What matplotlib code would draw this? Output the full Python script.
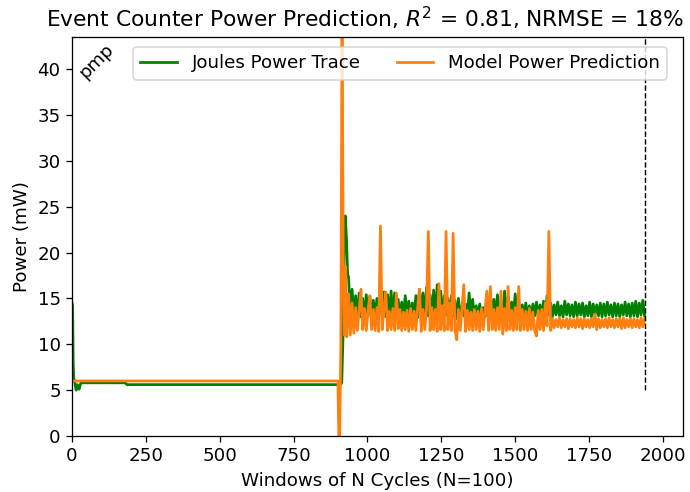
import numpy as np
import matplotlib
matplotlib.use("Agg")
import matplotlib.pyplot as plt

# ---------------- data ----------------
# Joules power trace: head part (explicit windows)
green_head_x = [0, 2, 4, 6, 9, 14, 18, 24, 30, 180, 186, 908, 913, 917, 921, 925, 929, 933]
green_head_y = [14.5, 14.2, 8.0, 6.3, 5.9, 5.0, 5.6, 5.1, 5.8, 5.8, 5.6, 5.6, 5.8, 10.5, 20.0, 24.0, 21.5, 17.5]

# Model prediction: head part
orange_head_x = [2, 900, 903, 906, 910, 914, 918, 922, 926, 930]
orange_head_y = [6.0, 6.0, 0.0, 0.0, 10.0, 47.0, 19.0, 11.0, 18.5, 10.8]

# Noisy part: windows 936, 942, ..., 1938
noise_start, noise_step, noise_end = 936, 6, 1938

green_noise = [
    17.4, 13.2, 16.0, 13.0, 15.3, 12.8, 15.6, 13.0, 15.0, 12.9, 15.4, 13.1,
    15.2, 12.9, 14.8, 13.0, 15.0, 13.2, 15.5, 12.8, 15.7, 13.0, 15.4, 13.1,
    15.8, 12.9, 15.6, 13.2, 14.9, 12.8, 14.6, 13.0, 15.3, 13.1, 14.7, 12.9,
    14.5, 13.0, 15.3, 12.9, 16.0, 13.2, 15.6, 13.0, 16.2, 13.1, 15.4, 13.0,
    15.9, 12.9, 16.5, 13.1, 15.8, 13.0, 15.3, 13.2, 15.0, 12.9, 15.3, 13.1,
    14.8, 12.8, 15.0, 13.0, 14.2, 13.1, 14.4, 12.9, 15.6, 13.2, 14.9, 13.0,
    14.2, 13.1, 14.4, 12.9, 14.0, 13.0, 15.3, 13.1, 15.6, 12.8, 14.9, 13.0,
    15.4, 13.1, 14.6, 12.9, 15.8, 13.0, 15.2, 13.1, 14.6, 13.0, 15.5, 13.2,
    14.4, 13.0, 14.3, 13.1, 14.5, 12.9, 14.2, 13.0, 14.4, 13.1, 14.6, 13.0,
    14.3, 13.1, 14.7, 13.0, 15.3, 13.2,
    14.5, 13.0, 14.3, 13.2, 14.6, 13.1, 14.2, 13.0, 14.7, 13.2, 14.4, 13.1,
    14.3, 13.0, 14.6, 13.1, 14.4, 13.2, 14.5, 13.0, 14.2, 13.1, 14.6, 13.0,
    14.4, 13.2, 14.3, 13.1, 14.5, 13.0, 14.4, 13.1, 14.6, 13.2, 14.3, 13.0,
    14.5, 13.1, 14.4, 13.0, 14.3, 13.2, 14.6, 13.1, 14.4, 13.0, 14.5, 13.1,
    14.7, 13.0, 14.5, 13.2, 14.8, 13.1,
]

orange_noise = [
    15.5, 11.0, 14.5, 11.2, 14.0, 11.5, 13.8, 16.0, 11.6, 13.9, 11.5, 13.7,
    15.3, 11.6, 13.8, 11.5, 14.0, 11.4, 22.9, 11.6, 13.9, 15.7, 11.5, 13.6,
    11.6, 13.9, 11.5, 15.6, 11.7, 13.8, 11.5, 13.5, 11.6, 13.7, 11.4, 13.9,
    11.6, 13.6, 11.5, 14.0, 16.0, 11.4, 13.8, 11.6, 13.9, 22.3, 11.5, 14.0,
    11.6, 13.8, 11.4, 16.6, 11.6, 14.2, 11.5, 22.3, 11.6, 14.5, 11.5, 22.1,
    11.6, 10.5, 13.8, 11.5, 14.0, 16.5, 11.4, 13.7, 11.6, 13.5, 11.5, 13.8,
    11.6, 13.6, 11.4, 13.9, 11.6, 13.7, 15.8, 11.5, 16.3, 11.6, 13.8, 11.5,
    14.0, 11.6, 15.8, 11.1, 13.9, 11.5, 16.3, 11.6, 13.7, 11.5, 14.0, 11.6,
    16.3, 11.5, 13.8, 11.6, 13.6, 11.5, 13.9, 11.6, 13.5, 11.5, 10.9, 13.7,
    11.6, 13.8, 11.5, 14.5, 12.0, 22.3,
    11.5, 12.8, 11.8, 12.7, 11.9, 12.9, 11.8, 12.7, 11.9, 12.8, 11.7, 12.8,
    11.9, 12.7, 11.8, 12.9, 11.9, 12.8, 11.7, 12.8, 11.9, 12.7, 11.8, 12.8,
    11.9, 13.3, 11.6, 12.8, 11.8, 12.7, 11.9, 12.8, 11.8, 12.9, 11.9, 12.7,
    11.8, 12.8, 11.9, 12.8, 11.7, 12.9, 11.8, 12.7, 11.9, 12.8, 11.8, 12.8,
    11.9, 12.7, 11.8, 12.9, 11.9, 12.8,
]

end_marker_x = 1940
end_marker_ymin = 5

title = r"Event Counter Power Prediction, $R^2$ = 0.81, NRMSE = 18%"
xlabel = "Windows of N Cycles (N=100)"
ylabel = "Power (mW)"
series_labels = ["Joules Power Trace", "Model Power Prediction"]
annotation = "pmp"

# ---------------- build series ----------------
noise_x = np.arange(noise_start, noise_end + 1, noise_step)
gx = np.concatenate([green_head_x, noise_x])
gy = np.concatenate([green_head_y, green_noise])
ox = np.concatenate([orange_head_x, noise_x])
oy = np.concatenate([orange_head_y, orange_noise])

# ---------------- plot ----------------
fs = 11.3
dpi = 116
fig = plt.figure(figsize=(690 / dpi, 492 / dpi), dpi=dpi)
ax = fig.add_axes([72 / 690, 1 - 436 / 492, (683 - 72) / 690, (436 - 37) / 492])

ax.plot(gx, gy, color="green", lw=1.7, label=series_labels[0])
ax.plot(ox, oy, color="C1", lw=1.7, label=series_labels[1])
ax.vlines(end_marker_x, end_marker_ymin, 43.5, colors="black", linestyles="--", lw=0.9)

ax.text(12, 38.6, annotation, rotation=45, ha="left", va="bottom", fontsize=fs)

ax.set_xlim(0, 2068)
ax.set_ylim(0, 43.5)
ax.set_xticks(np.arange(0, 2001, 250))
ax.set_yticks(np.arange(0, 41, 5))
ax.tick_params(labelsize=fs)
ax.set_title(title, fontsize=13.5, x=(365.5 - 72) / 611)
ax.set_xlabel(xlabel, fontsize=fs)
ax.set_ylabel(ylabel, fontsize=fs)
ax.legend(loc="upper right", ncol=2, fontsize=fs, borderaxespad=0,
          bbox_to_anchor=((667 - 72) / 611, (436 - 47) / 399))

fig.savefig("out.png", dpi=dpi)
